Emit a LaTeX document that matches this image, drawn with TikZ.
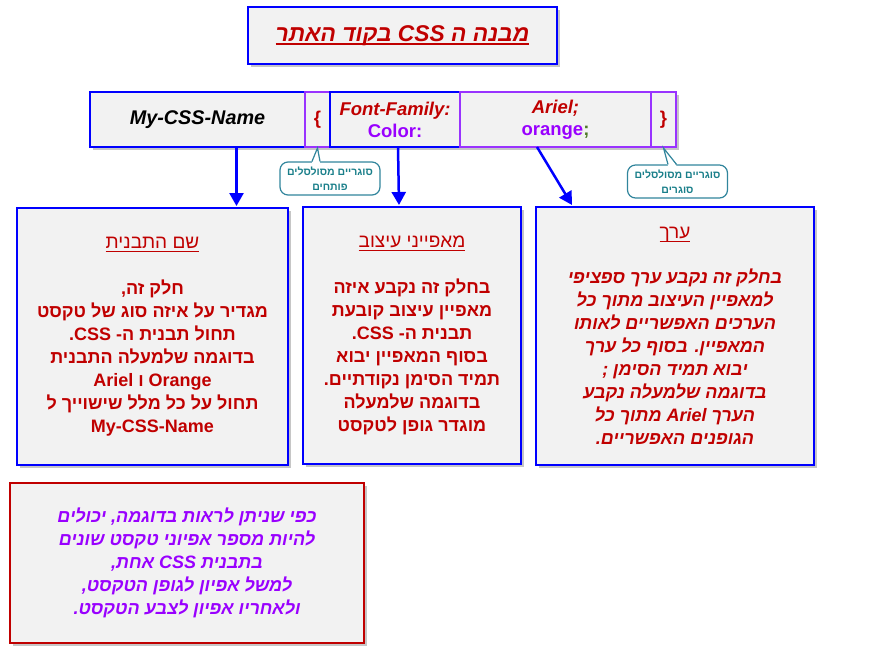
\documentclass[tikz,border=0pt]{standalone}
\usepackage{fontspec}
\setmainfont{Liberation Sans}
\newfontfamily\hebfont[Script=Hebrew]{Liberation Sans}
\TeXXeTstate=1
\usetikzlibrary{positioning,shadows,arrows.meta}
\definecolor{frame-blue}{HTML}{0000FF}
\definecolor{frame-purple}{HTML}{9933FF}
\definecolor{text-red}{HTML}{C00000}
\definecolor{text-purple}{HTML}{9900FF}
\definecolor{semi-green}{HTML}{4E7A27}
\definecolor{light-bg}{HTML}{F2F2F2}
\definecolor{callout-teal}{HTML}{31859C}
\definecolor{callout-ink}{HTML}{1A7F8A}

\newcommand{\rtline}[1]{\beginR #1\endR}
\newcommand{\ltrword}[1]{\beginL #1\endL{}}
\newcommand{\headfont}{\fontsize{19}{23}\selectfont\mdseries\upshape}
\newsavebox{\ulinebox}
\newcommand{\thickuline}[2]{\sbox{\ulinebox}{#2}\rlap{\rule[-3.5pt]{\wd\ulinebox}{#1}}\usebox{\ulinebox}}

\begin{document}
\begin{tikzpicture}[x=1pt, y=-1pt,
    card/.style={draw=frame-blue, line width=2pt, fill=light-bg, outer sep=0pt,
                 drop shadow={shadow xshift=3pt, shadow yshift=-3pt, opacity=0.45}},
    purplecard/.style={card, draw=frame-purple},
    bodytext/.style={align=center, font=\hebfont\fontsize{18}{23}\selectfont\bfseries},
    slanttext/.style={align=center, font=\hebfont\fontsize{18}{23}\selectfont\bfseries\itshape},
    rowtext/.style={font=\fontsize{18.5}{22}\selectfont\bfseries},
    flow/.style={draw=frame-blue, line width=2.5pt, -{Triangle[length=13pt, width=14pt]}},
    callout/.style={draw=callout-teal, line width=1.2pt, fill=white, rounded corners=8pt,
                    align=center, text=callout-ink, minimum width=100pt, minimum height=33pt,
                    font=\hebfont\fontsize{10.5}{15}\selectfont\bfseries},
    tail/.style={draw=callout-teal, line width=1.2pt}]
  \useasboundingbox (0,0) rectangle (880,651);

  % title
  \node[card, minimum width=309pt, minimum height=57pt, text=text-red,
        font=\hebfont\fontsize{22.8}{26}\selectfont\bfseries\itshape] (title) at (402.5,35.5)
        {\thickuline{2pt}{\rtline{מבנה ה \ltrword{CSS} בקוד האתר}}};

  % the css rule, in one row
  \node[card, rowtext, minimum width=215pt, minimum height=55pt,
        font=\fontsize{19.8}{22}\selectfont\bfseries\itshape] (name) at (197.5,119.5) {My-CSS-Name};
  \node[purplecard, rowtext, right=0pt of name, minimum width=25pt, minimum height=55pt,
        text=text-red] (lbrace) {\{};
  \node[card, rowtext, right=0pt of lbrace, minimum width=130pt, minimum height=55pt,
        align=center] (prop)
        {{\color{text-red}\itshape Font-Family:}\\{\color{text-purple}Color:}};
  \node[purplecard, rowtext, right=0pt of prop, minimum width=191pt, minimum height=55pt,
        align=center] (val)
        {{\color{text-red}\itshape Ariel;}\\{\color{text-purple}orange}{\color{semi-green};}};
  \node[purplecard, rowtext, right=0pt of val, minimum width=25pt, minimum height=55pt,
        text=text-red] (rbrace) {\}};

  % the three parts
  \node[card, bodytext, minimum width=271pt, minimum height=257pt, text=text-red] (namebox) at (152.5,336.5)
    {\headfont\thickuline{1pt}{\rtline{שם התבנית}}\\[23pt]
     \rtline{חלק זה,}\\
     \rtline{מגדיר על איזה סוג של טקסט}\\
     \rtline{תחול תבנית ה- \ltrword{CSS}.}\\
     \rtline{בדוגמה שלמעלה התבנית}\\
     Ariel ו Orange\\
     \rtline{תחול על כל מלל שישוייך ל}\\
     My-CSS-Name};
  \node[card, bodytext, minimum width=218pt, minimum height=257pt, text=text-red] (propbox) at (412,335.5)
    {\headfont\thickuline{1pt}{\rtline{מאפייני עיצוב}}\\[23pt]
     \rtline{בחלק זה נקבע איזה}\\
     \rtline{מאפיין עיצוב קובעת}\\
     \rtline{תבנית ה- \ltrword{CSS}.}\\
     \rtline{בסוף המאפיין יבוא}\\
     \rtline{תמיד הסימן נקודתיים.}\\
     \rtline{בדוגמה שלמעלה}\\
     \rtline{מוגדר גופן לטקסט}};
  \node[card, slanttext, minimum width=278pt, minimum height=258pt, text=text-red] (valbox) at (675,336)
    {\headfont\thickuline{1pt}{\rtline{ערך}}\\[22pt]
     \rtline{בחלק זה נקבע ערך ספציפי}\\
     \rtline{למאפיין העיצוב מתוך כל}\\
     \rtline{הערכים האפשריים לאותו}\\
     \rtline{המאפיין. בסוף כל ערך}\\
     \rtline{יבוא תמיד הסימן ;}\\
     \rtline{בדוגמה שלמעלה נקבע}\\
     \rtline{הערך \ltrword{Ariel} מתוך כל}\\
     \rtline{הגופנים האפשריים.}};

  % note at the bottom
  \node[card, slanttext, draw=text-red, minimum width=354pt, minimum height=160pt,
        text=text-purple] (notebox) at (187,563)
    {\rtline{כפי שניתן לראות בדוגמה, יכולים}\\
     \rtline{להיות מספר אפיוני טקסט שונים}\\
     \rtline{בתבנית \ltrword{CSS} אחת,}\\
     \rtline{למשל אפיון לגופן הטקסט,}\\
     \rtline{ולאחריו אפיון לצבע הטקסט.}};

  % arrows
  \draw[flow] ([xshift=39pt]name.south) -- ([xshift=84pt,yshift=2pt]namebox.north);
  \draw[flow] ([xshift=3pt]prop.south) -- ([xshift=-13pt,yshift=2pt]propbox.north);
  \draw[flow] ([xshift=-18.5pt]val.south) -- ([xshift=-103pt,yshift=2pt]valbox.north);

  % callouts for the braces
  \node[callout] (opennote) at (330,178.5) {\rtline{סוגריים מסולסלים}\\\rtline{פותחים}};
  \fill[white] ([xshift=-18pt,yshift=-1.5pt]opennote.north) -- ([yshift=-1pt]lbrace.south)
    -- ([xshift=-10pt,yshift=-1.5pt]opennote.north) -- cycle;
  \draw[tail] ([xshift=-18pt]opennote.north) -- ([yshift=-1pt]lbrace.south) -- ([xshift=-10pt]opennote.north);

  \node[callout] (closenote) at (677.5,181.5) {\rtline{סוגריים מסולסלים}\\\rtline{סוגרים}};
  \fill[white] ([xshift=-9.5pt,yshift=-1.5pt]closenote.north) -- ([yshift=-1pt]rbrace.south)
    -- ([xshift=-1pt,yshift=-1.5pt]closenote.north) -- cycle;
  \draw[tail] ([xshift=-9.5pt]closenote.north) -- ([yshift=-1pt]rbrace.south) -- ([xshift=-1pt]closenote.north);
\end{tikzpicture}
\end{document}
